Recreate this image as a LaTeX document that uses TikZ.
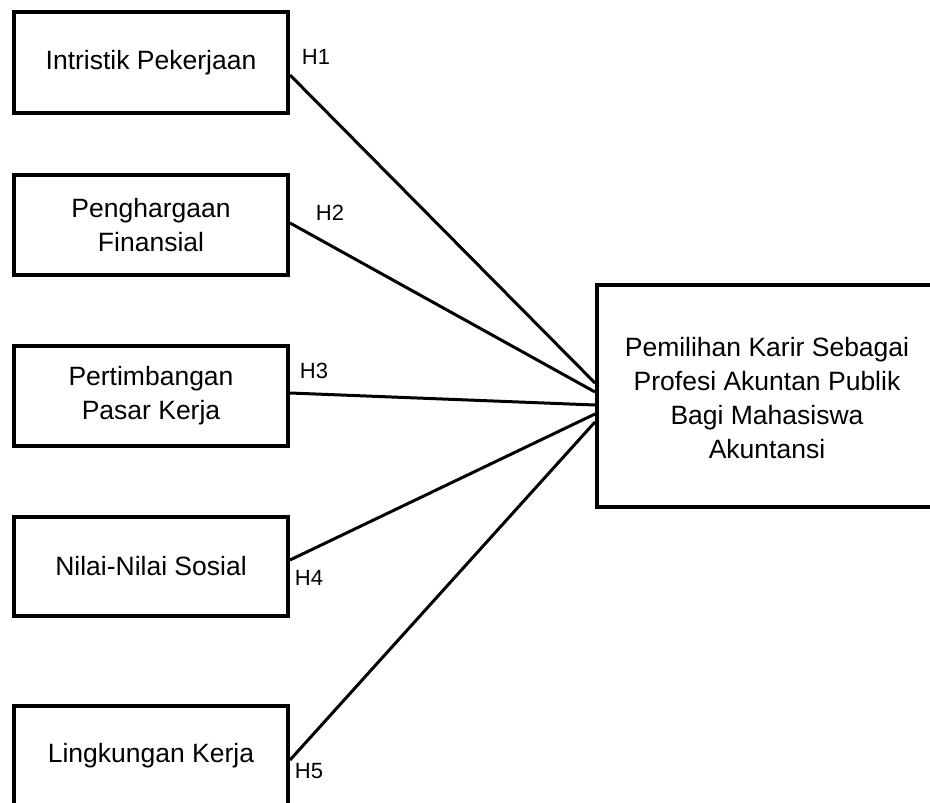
\documentclass[tikz,border=0pt]{standalone}
\usepackage{fontspec}
\setmainfont{Liberation Sans}
\begin{document}
\begin{tikzpicture}[x=1pt,y=-1pt,
  box/.style={draw=black,line width=4pt,inner sep=0pt,align=center,
    font=\fontsize{26.5}{34}\selectfont},
  hlab/.style={inner sep=0pt,font=\fontsize{22}{26}\selectfont},
  conn/.style={line width=3pt,draw=black}]
\useasboundingbox (0,0) rectangle (930,803);
\clip (0,0) rectangle (930,803);
\node[box,minimum width=274pt,minimum height=101pt] (b1) at (151,62.5) {Intristik Pekerjaan};
\node[box,minimum width=274pt,minimum height=100pt] (b2) at (151,225) {Penghargaan\\Finansial};
\node[box,minimum width=274pt,minimum height=100pt] (b3) at (151,396) {Pertimbangan\\Pasar Kerja};
\node[box,minimum width=274pt,minimum height=99pt] (b4) at (151,566.5) {Nilai-Nilai Sosial};
\node[box,minimum width=274pt,minimum height=100pt] (b5) at (151,756) {Lingkungan Kerja};
\node[box,minimum width=338pt,minimum height=222pt,text width=330pt] (t) at (766,396) {};
\node[font=\fontsize{26.5}{34}\selectfont,align=center,inner sep=0pt] (tt) at (767,398)
  {Pemilihan Karir Sebagai\\Profesi Akuntan Publik\\Bagi Mahasiswa\\Akuntansi};
\draw[conn] ([yshift=-12.5pt]b1.east) -- ([yshift=13pt]t.west);
\draw[conn] ([yshift=2pt]b2.east) -- ([yshift=4pt]t.west);
\draw[conn] ([yshift=3pt]b3.east) -- ([yshift=-9pt]t.west);
\draw[conn] ([yshift=6.5pt]b4.east) -- ([yshift=-18pt]t.west);
\draw[conn] ([yshift=-4pt]b5.east) -- ([yshift=-26pt]t.west);
\node[hlab] (h1) at (316,57) {H1};
\node[hlab] (h2) at (330,213) {H2};
\node[hlab] (h3) at (314,371) {H3};
\node[hlab] (h4) at (309,578) {H4};
\node[hlab] (h5) at (309,771) {H5};
\end{tikzpicture}
\end{document}
